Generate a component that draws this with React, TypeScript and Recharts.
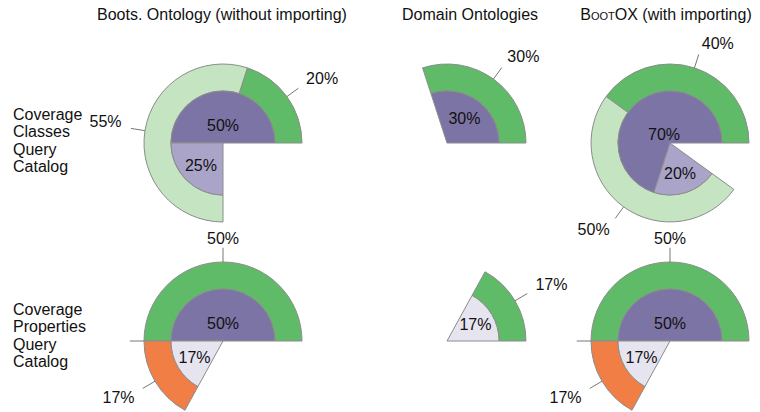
import { PieChart, Pie, Cell } from "recharts";

const COLUMN_TITLES = ["Boots. Ontology (without importing)", "Domain Ontologies", "BootOX (with importing)"];
const ROW_LABELS = [
  ["Coverage", "Classes", "Query", "Catalog"],
  ["Coverage", "Properties", "Query", "Catalog"],
];

// percentages per column (null = slice not present in that pie, 0 = empty slice, line only)
const CLASSES_INNER_DARK = [50, 30, 70];
const CLASSES_INNER_MID = [25, null, 20];
const CLASSES_OUTER_GREEN = [20, 30, 40];
const CLASSES_OUTER_LIGHT = [55, null, 50];

const PROPS_INNER_DARK = [50, null, 50];
const PROPS_INNER_PALE = [17, 17, 17];
const PROPS_OUTER_GREEN = [50, 17, 50];
const PROPS_OUTER_LIGHT = [0, null, 0];
const PROPS_OUTER_ORANGE = [17, null, 17];

const C = {
  dark: "#7c74a4",
  mid: "#aba4c9",
  pale: "#e6e4ef",
  green: "#5fbb68",
  light: "#c5e4c2",
  orange: "#f17e45",
};

const CX = [223, 447, 670];
const CY = [143, 341];
const R_IN = 52;
const R_OUT = 79;
const FONT = "'Liberation Sans', Arial, Helvetica, sans-serif";
const RAD = Math.PI / 180;

type Slice = { name: string; value: number; fill: string; rest?: boolean };

const build = (parts: [number | null, string, string][]): Slice[] => {
  const out: Slice[] = [];
  parts.forEach(([v, name, fill]) => {
    if (v !== null) out.push({ name, value: v, fill });
  });
  const sum = out.reduce((a, s) => a + s.value, 0);
  out.push({ name: "rest", value: 100 - sum, fill: "none", rest: true });
  return out;
};

const innerData = (row: number, col: number) =>
  row === 0
    ? build([
        [CLASSES_INNER_DARK[col], "full", C.dark],
        [CLASSES_INNER_MID[col], "partial", C.mid],
      ])
    : build([
        [PROPS_INNER_DARK[col], "full", C.dark],
        [PROPS_INNER_PALE[col], "partial", C.pale],
      ]);

const outerData = (row: number, col: number) =>
  row === 0
    ? build([
        [CLASSES_OUTER_GREEN[col], "covered", C.green],
        [CLASSES_OUTER_LIGHT[col], "partly", C.light],
      ])
    : build([
        [PROPS_OUTER_GREEN[col], "covered", C.green],
        [PROPS_OUTER_LIGHT[col], "partly", C.light],
        [PROPS_OUTER_ORANGE[col], "missing", C.orange],
      ]);

const isRest = (p: any) => p.rest || p.payload?.rest;

const innerLabel = (p: any) => {
  if (isRest(p) || !p.value) return null;
  const a = Math.abs(p.endAngle - p.startAngle) * RAD;
  let d = (4 * p.outerRadius * Math.sin(a / 2)) / (3 * a);
  if (a > 3) d *= 0.8; // big wedges sit a bit closer to the centre
  const x = p.cx + d * Math.cos(-p.midAngle * RAD);
  const y = p.cy + d * Math.sin(-p.midAngle * RAD);
  return (
    <text x={x} y={y} textAnchor="middle" dominantBaseline="central" fontSize={16} fontFamily={FONT} fill="#111">
      {`${p.value}%`}
    </text>
  );
};

const outerLabel = (p: any) => {
  if (isRest(p)) return null;
  const cos = Math.cos(-p.midAngle * RAD);
  const sin = Math.sin(-p.midAngle * RAD);
  const r = p.outerRadius;
  const x1 = p.cx + r * cos, y1 = p.cy + r * sin;
  const x2 = p.cx + r * 1.18 * cos, y2 = p.cy + r * 1.18 * sin;
  const tx = p.cx + r * 1.3 * cos;
  const ty = p.cy + r * 1.3 * sin + 5 * Math.sign(sin) * Math.abs(cos);
  const anchor = cos > 0.05 ? "start" : cos < -0.05 ? "end" : "middle";
  return (
    <g>
      <line x1={x1} y1={y1} x2={x2} y2={y2} stroke="#777" strokeWidth={1} />
      {p.value > 0 && (
        <text x={tx} y={ty} textAnchor={anchor} dominantBaseline="central" fontSize={16} fontFamily={FONT} fill="#111">
          {`${p.value}%`}
        </text>
      )}
    </g>
  );
};

export default function App() {
  const pies: any[] = [];
  [0, 1].forEach((row) => {
    [0, 1, 2].forEach((col) => {
      const inner = innerData(row, col);
      const outer = outerData(row, col);
      pies.push(
        <Pie
          key={`o-${row}-${col}`}
          data={outer}
          dataKey="value"
          cx={CX[col]}
          cy={CY[row]}
          innerRadius={R_IN}
          outerRadius={R_OUT}
          startAngle={0}
          endAngle={360}
          label={outerLabel}
          labelLine={false}
          isAnimationActive={false}
        >
          {outer.map((s, i) => (
            <Cell key={i} fill={s.fill} stroke={s.rest ? "none" : "#8c8c8c"} strokeWidth={1} />
          ))}
        </Pie>,
        <Pie
          key={`i-${row}-${col}`}
          data={inner}
          dataKey="value"
          cx={CX[col]}
          cy={CY[row]}
          innerRadius={0}
          outerRadius={R_IN}
          startAngle={0}
          endAngle={360}
          label={innerLabel}
          labelLine={false}
          isAnimationActive={false}
        >
          {inner.map((s, i) => (
            <Cell key={i} fill={s.fill} stroke={s.rest ? "none" : "#8c8c8c"} strokeWidth={1} />
          ))}
        </Pie>
      );
    });
  });

  const titleX = [222, 470, 666];
  return (
    <div style={{ position: "absolute", left: 0, top: 0, width: 760, height: 412, background: "#fff", fontFamily: FONT, color: "#111" }}>
      <PieChart width={760} height={412} margin={{ top: 0, right: 0, bottom: 0, left: 0 }}>
        {pies}
      </PieChart>
      {COLUMN_TITLES.map((t, i) => {
        const m = t.match(/^(\S+)(.*)$/);
        return (
          <div
            key={t}
            style={{
              position: "absolute",
              top: 6,
              left: titleX[i] - 150,
              width: 300,
              textAlign: "center",
              fontSize: 16,
              whiteSpace: "nowrap",
            }}
          >
            {i === 2 && m ? (
              <>
                <span style={{ fontVariant: "small-caps" }}>{m[1]}</span>
                {m[2]}
              </>
            ) : (
              t
            )}
          </div>
        );
      })}
      {ROW_LABELS.map((lines, r) => (
        <div key={r} style={{ position: "absolute", left: 13, top: r === 0 ? 106 : 301, fontSize: 16, lineHeight: "17.3px" }}>
          {lines.map((l) => (
            <div key={l}>{l}</div>
          ))}
        </div>
      ))}
    </div>
  );
}
